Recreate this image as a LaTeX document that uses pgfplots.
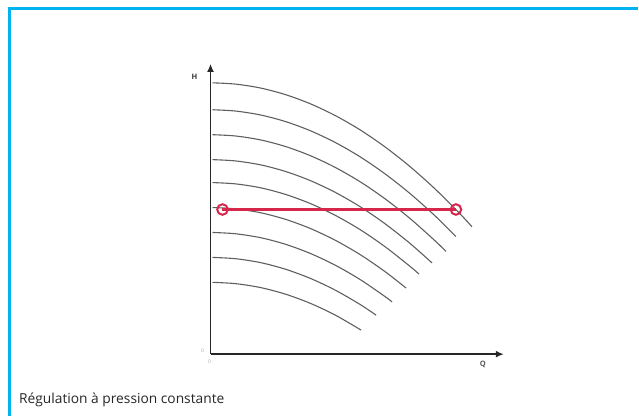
\documentclass[border=0pt]{standalone}
\usepackage{pgfplots}
\pgfplotsset{compat=1.18}
\usetikzlibrary{arrows.meta}
\usepackage{fontspec}
\setmainfont{Open Sans}
\definecolor{frame}{RGB}{0,178,240}
\definecolor{curve}{RGB}{95,95,95}
\definecolor{redl}{RGB}{214,38,76}
\begin{document}
\begin{tikzpicture}[x=1pt,y=1pt]
\path (0,0) rectangle (639,417);
\draw[frame,line width=3pt] (9.5,0) -- (9.5,408.5) -- (639,408.5);
\node[anchor=base west,font=\fontsize{13.8}{15}\selectfont,text=black!85,inner sep=0pt] at (19,13) {Régulation à pression constante};
\begin{axis}[at={(211pt,62pt)},anchor=origin,x=1pt,y=1pt,
  xmin=0,xmax=294,ymin=0,ymax=291,
  axis lines=left, axis line style={line width=1.6pt,black!85,-{Latex[length=8pt,width=7pt]}},
  xtick=\empty, ytick=\empty, clip=false,
  pc/.style={curve,line width=1.1pt,smooth,no marks}]
\addplot[pc] coordinates {(2,272) (25,270.7) (50,266.8) (75,260.2) (100,251) (125,239.2) (150,224.8) (175,207.7) (200,188) (225,165.7) (250,140.8) (262,127.8)};
\addplot[pc] coordinates {(2,245) (25,243.7) (50,239.8) (75,233.2) (100,224) (125,212.2) (150,197.8) (175,180.7) (200,161) (225,138.7) (246,117.9)};
\addplot[pc] coordinates {(2,220) (25,218.7) (50,214.8) (75,208.2) (100,199) (125,187.2) (150,172.8) (175,155.7) (200,136) (225,113.7) (236,103)};
\addplot[pc] coordinates {(2,195) (25,193.7) (50,189.8) (75,183.2) (100,174) (125,162.2) (150,147.8) (175,130.7) (200,111) (222,91.5)};
\addplot[pc] coordinates {(2,172) (25,170.7) (50,166.8) (75,160.2) (100,151) (125,139.2) (150,124.8) (175,107.7) (200,88) (209,80.3)};
\addplot[pc] coordinates {(2,147) (25,145.7) (50,141.8) (75,135.2) (100,126) (125,114.2) (150,99.8) (175,82.7) (196,66.3)};
\addplot[pc] coordinates {(2,122) (25,120.7) (50,116.8) (75,110.2) (100,101) (125,89.2) (150,74.8) (175,57.7) (182,52.4)};
\addplot[pc] coordinates {(2,97) (25,95.7) (50,91.8) (75,85.2) (100,76) (125,64.2) (150,49.8) (166,39.1)};
\addplot[pc] coordinates {(2,72) (25,70.7) (50,66.8) (75,60.2) (100,51) (125,39.2) (151,24.1)};
\addplot[redl,line width=2.3pt,mark=o,mark size=5.3pt,mark options={fill=white,line width=2pt}] coordinates {(12,145) (246,145)};
\node[font=\bfseries\fontsize{7.5}{8}\selectfont,text=black!80] at (axis cs:-16,278) {H};
\node[font=\bfseries\fontsize{7.5}{8}\selectfont,text=black!65] at (axis cs:273,-10) {Q};
\node[font=\fontsize{5}{6}\selectfont,text=black!35] at (axis cs:-8,3) {0};
\node[font=\fontsize{5}{6}\selectfont,text=black!35] at (axis cs:-1,-8) {0};
\end{axis}
\end{tikzpicture}
\end{document}
